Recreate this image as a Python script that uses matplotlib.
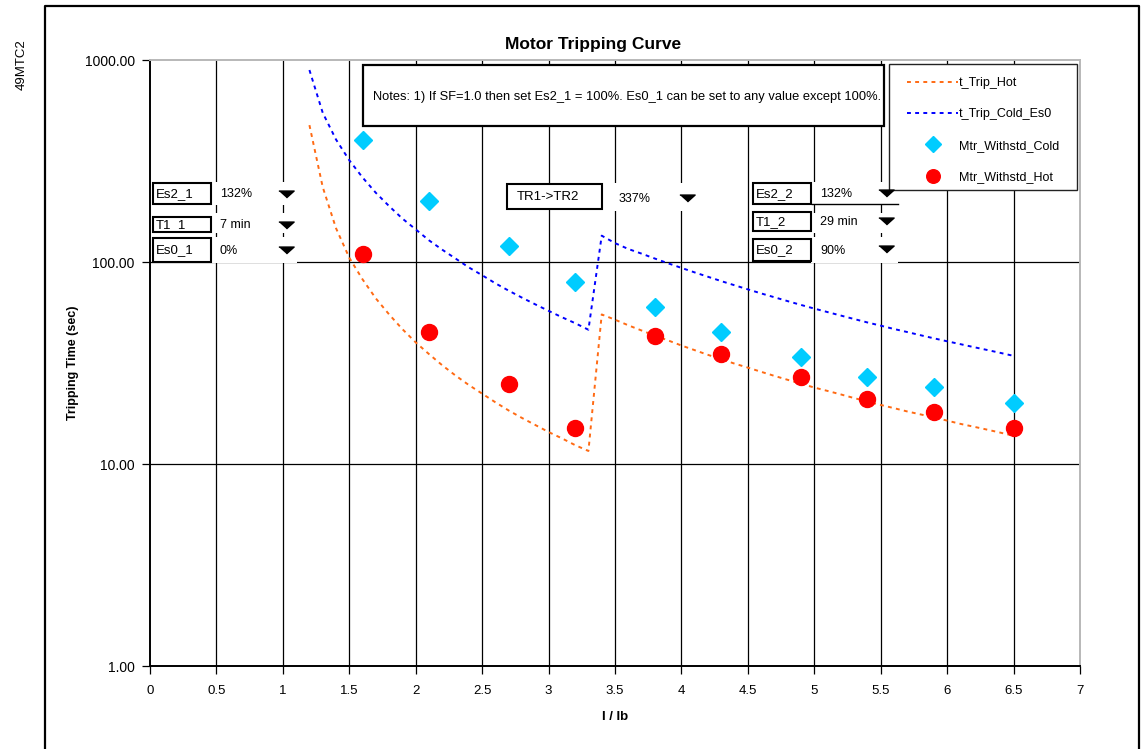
import matplotlib
matplotlib.use("Agg")
import matplotlib.pyplot as plt
from matplotlib.patches import Rectangle
from matplotlib.lines import Line2D

plt.rcParams['font.family'] = ['Liberation Sans', 'DejaVu Sans']

# ---------------- data ----------------
x_trip = [1.2, 1.3, 1.4, 1.5, 1.6, 1.7, 1.8, 1.9, 2.0, 2.1, 2.2, 2.3, 2.4, 2.5,
          2.6, 2.7, 2.8, 2.9, 3.0, 3.1, 3.2, 3.3,
          3.4, 3.5, 3.6, 3.7, 3.8, 3.9, 4.0, 4.1, 4.2, 4.3, 4.4, 4.5, 4.6, 4.7,
          4.8, 4.9, 5.0, 5.1, 5.2, 5.3, 5.4, 5.5, 5.6, 5.7, 5.8, 5.9, 6.0, 6.1,
          6.2, 6.3, 6.4, 6.5]
t_trip_hot = [476, 235, 147, 105, 82, 66, 55, 46.5, 40, 35, 30.8, 27.4, 24.6, 22.3,
              20.2, 18.4, 16.9, 15.6, 14.4, 13.4, 12.4, 11.6,
              55, 51.8, 48.6, 45.8, 43.2, 40.9, 38.6, 36.6, 34.7, 33.0, 31.4, 30.0,
              28.6, 27.3, 26.1, 25.0, 23.9, 23.0, 22.1, 21.2, 20.4, 19.6, 18.9, 18.2,
              17.6, 17.0, 16.4, 15.8, 15.3, 14.8, 14.3, 13.8]
t_trip_cold = [892, 548, 404, 319, 262, 220, 189, 164, 145, 128, 115, 104, 94, 86,
               78.4, 72.1, 66.6, 61.7, 57.3, 53.3, 49.8, 46.2,
               135, 124, 116, 110, 104, 98.5, 93.5, 88.8, 84.5, 80.4, 76.7, 73.2,
               69.9, 66.9, 64.0, 61.3, 58.8, 56.5, 54.3, 52.2, 50.2, 48.4, 46.6, 45.0,
               43.4, 41.9, 40.5, 39.2, 37.9, 36.7, 35.5, 34.3]
x_withstd = [1.6, 2.1, 2.7, 3.2, 3.8, 4.3, 4.9, 5.4, 5.9, 6.5]
withstd_cold = [400, 200, 120, 80, 60, 45, 34, 27, 24, 20]
withstd_hot = [110, 45, 25, 15, 43, 35, 27, 21, 18, 15]

x_ticks = [0, 0.5, 1, 1.5, 2, 2.5, 3, 3.5, 4, 4.5, 5, 5.5, 6, 6.5, 7]
y_ticks = [1, 10, 100, 1000]

left_labels = ["Es2_1", "T1_1", "Es0_1"]
left_values = ["132%", "7 min", "0%"]
right_labels = ["Es2_2", "T1_2", "Es0_2"]
right_values = ["132%", "29 min", "90%"]
mid_label = "TR1->TR2"
mid_value = "337%"
notes = "Notes: 1) If SF=1.0 then set Es2_1 = 100%. Es0_1 can be set to any value except 100%."

# ---------------- figure ----------------
W, H = 1142, 749
fig = plt.figure(figsize=(W / 100, H / 100), dpi=100)
ax = fig.add_axes([150 / W, 1 - 666 / H, (1080 - 150) / W, (666 - 60) / H])

ax.set_yscale('log')
ax.set_xlim(0, 7)
ax.set_ylim(1, 1000)

# grid
for xv in x_ticks[1:-1]:
    ax.axvline(xv, color='black', lw=0.9, zorder=1)
for yv in [10, 100]:
    ax.axhline(yv, color='black', lw=0.9, zorder=1)

ax.plot(x_trip, t_trip_hot, color='#FF6A13', lw=1.4, ls=(0, (2, 2.2)),
        label='t_Trip_Hot', zorder=2)
ax.plot(x_trip, t_trip_cold, color='#0000FF', lw=1.4, ls=(0, (2, 2.2)),
        label='t_Trip_Cold_Es0', zorder=2)
ax.plot(x_withstd, withstd_cold, ls='none', marker='D', ms=9,
        color='#00CCFF', mec='#00CCFF', label='Mtr_Withstd_Cold', zorder=2.2)
ax.plot(x_withstd, withstd_hot, ls='none', marker='o', ms=11.5,
        color='#FF0000', mec='#FF0000', label='Mtr_Withstd_Hot', zorder=2.3)

ax.set_xticks(x_ticks)
ax.set_xticklabels(['%g' % v for v in x_ticks], fontsize=9.5)
ax.set_yticks(y_ticks)
ax.set_yticklabels(['%.2f' % v for v in y_ticks], fontsize=10)
ax.minorticks_off()
ax.tick_params(axis='x', direction='out', length=6, width=0.9, pad=8, color='black')
ax.tick_params(axis='y', direction='out', length=6, width=0.9, pad=5, color='black')

for s in ['left', 'bottom']:
    ax.spines[s].set_color('black')
    ax.spines[s].set_linewidth(1.4)
for s in ['top', 'right']:
    ax.spines[s].set_color('#b8b8b8')
    ax.spines[s].set_linewidth(1.4)

ax.set_xlabel('I / Ib', fontsize=9.5, fontweight='bold', labelpad=10)
ax.set_ylabel('Tripping Time (sec)', fontsize=9, fontweight='bold', labelpad=4)

fig.text(593 / W, 1 - 44 / H, 'Motor Tripping Curve', fontsize=12.5,
         fontweight='bold', ha='center', va='center')
fig.text(22 / W, 1 - 65 / H, '49MTC2', fontsize=9.5, rotation=90,
         ha='center', va='center')


def fx(x):
    return x / W


def fy(y):
    return 1 - y / H


def rect(x0, y0, x1, y1, lw=0, ec='none', fc='white', z=3):
    ax.add_patch(Rectangle((fx(x0), fy(y1)), (x1 - x0) / W, (y1 - y0) / H,
                           transform=fig.transFigure, facecolor=fc, edgecolor=ec,
                           lw=lw, zorder=z, clip_on=False))


def label(x, y, s, size=9.5):
    ax.text(fx(x), fy(y), s, transform=fig.transFigure, fontsize=size,
            ha='left', va='center', zorder=4, clip_on=False)


tri = [(-1, 0.45), (1, 0.45), (0, -0.45)]


def arrow(x, y):
    ax.plot([fx(x)], [fy(y)], transform=fig.transFigure, marker=tri, ms=11,
            color='black', ls='none', zorder=4, clip_on=False)


# left dropdown group
rows_y = [(183, 204), (217, 232), (238, 262)]
white_y = [(182, 205), (213, 233), (237, 263)]
for (a, b), (wa, wb), lab, val in zip(rows_y, white_y, left_labels, left_values):
    rect(211, wa, 297, wb)
    rect(153, a, 211, b, lw=1.5, ec='black')
    label(156, (a + b) / 2 + 0.5, lab, 9.5)
    label(220, (a + b) / 2 + 0.5, val, 9)
    arrow(286, (a + b) / 2)

rows_y2 = [(183, 204), (212, 231), (239, 261)]
for (a, b), (wa, wb), lab, val in zip(rows_y2, white_y, right_labels, right_values):
    rect(811, wa, 898, wb)
    rect(753, a, 811, b, lw=1.5, ec='black')
    label(756, (a + b) / 2 + 0.5, lab, 9.5)
    label(820, (a + b) / 2 + 0.5, val, 9)
    arrow(886, (a + b) / 2 - 1)
ax.add_line(Line2D([fx(812), fx(898)], [fy(204), fy(204)], transform=fig.transFigure,
                   color='black', lw=1, zorder=4, clip_on=False))

# middle
rect(602, 183, 700, 211)
rect(507, 184, 602, 209, lw=1.5, ec='black')
label(517, 196.5, mid_label, 9.5)
label(619, 199, mid_value, 9)
arrow(687, 197.5)

# notes box
rect(363, 65, 884, 126, lw=1.6, ec='black')
label(373, 97, notes, 9.3)

# legend
rect(889, 64, 1077, 190, lw=1.0, ec='#222222')
leg = ax.legend(loc='upper left', bbox_to_anchor=(fx(907), fy(77)),
                bbox_transform=fig.transFigure, frameon=False, fontsize=9,
                borderpad=0, borderaxespad=0, handlelength=4.1, handletextpad=0.05,
                labelspacing=1.55, markerscale=0.85)
leg.set_zorder(6)

# outer frame
fig.add_artist(Line2D([fx(45), fx(45), fx(1139), fx(1139)],
                      [fy(752), fy(6), fy(6), fy(752)], transform=fig.transFigure,
                      color='black', lw=1.6))

fig.savefig('out.png', dpi=100)
